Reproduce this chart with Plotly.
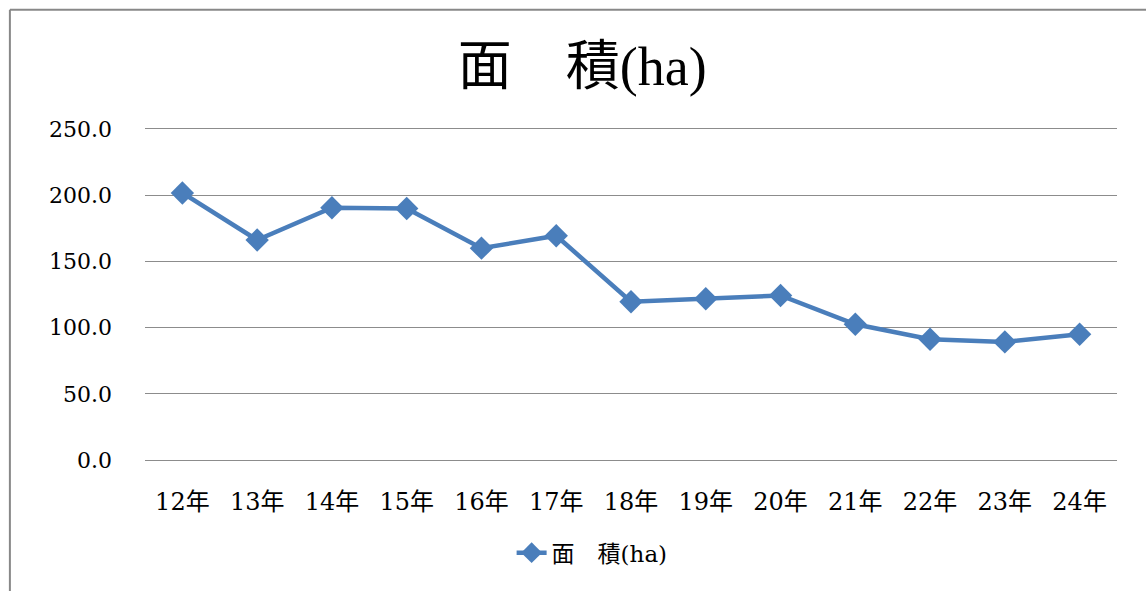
import plotly.graph_objects as go

categories = ["12年", "13年", "14年", "15年", "16年", "17年", "18年",
              "19年", "20年", "21年", "22年", "23年", "24年"]
area_ha = [201.7, 166.2, 190.5, 190.0, 160.0, 169.4, 119.5,
           121.8, 124.3, 102.5, 91.2, 89.2, 95.0]
y_tickvals = [0, 50, 100, 150, 200, 250]
y_ticktext = ["0.0", "50.0", "100.0", "150.0", "200.0", "250.0"]
series_name = "面　積(ha)"

serif = "DejaVu Serif, Noto Sans CJK JP, serif"
title_font = "Liberation Serif, Noto Sans CJK JP, serif"
blue = "#4a7ebb"
grid = "#8c8c8c"

fig = go.Figure()
fig.add_trace(go.Scatter(
    x=categories, y=area_ha, name=series_name, mode="lines+markers",
    line=dict(color=blue, width=4.5),
    marker=dict(symbol="diamond", size=18, color=blue),
))

fig.update_layout(
    width=1146, height=591,
    margin=dict(l=145, r=29, t=129, b=131),
    paper_bgcolor="white", plot_bgcolor="white",
    title=dict(text=series_name, x=0.508, xanchor="center",
               y=0.888, yanchor="middle",
               font=dict(family=title_font, size=54, color="black")),
    showlegend=True,
    legend=dict(orientation="h", x=0.46, xanchor="center", y=-0.28, yanchor="middle",
                font=dict(family=serif, size=23, color="black")),
    xaxis=dict(type="category", showgrid=False, ticks="",
               showline=True, mirror=True, linecolor=grid, linewidth=1,
               tickfont=dict(family=serif, size=24, color="black"),
               ticklabelstandoff=20,
               range=[-0.5, len(categories) - 0.5]),
    yaxis=dict(range=[0, 250], tickvals=y_tickvals, ticktext=y_ticktext,
               showgrid=True, gridcolor=grid, gridwidth=1,
               zeroline=False, showline=False, ticks="",
               tickfont=dict(family=serif, size=22, color="black"),
               ticklabelstandoff=32),
)

# outer chart frame (left and top edges visible)
fig.add_shape(type="line", xref="paper", yref="paper",
              x0=-0.139, x1=1.04, y0=1.36, y1=1.36,
              line=dict(color="#888888", width=2))
fig.add_shape(type="line", xref="paper", yref="paper",
              x0=-0.139, x1=-0.139, y0=1.36, y1=-0.40,
              line=dict(color="#888888", width=2))

fig.write_html("out.html", config={"displayModeBar": False},
               post_script="document.body.style.margin='0';")
